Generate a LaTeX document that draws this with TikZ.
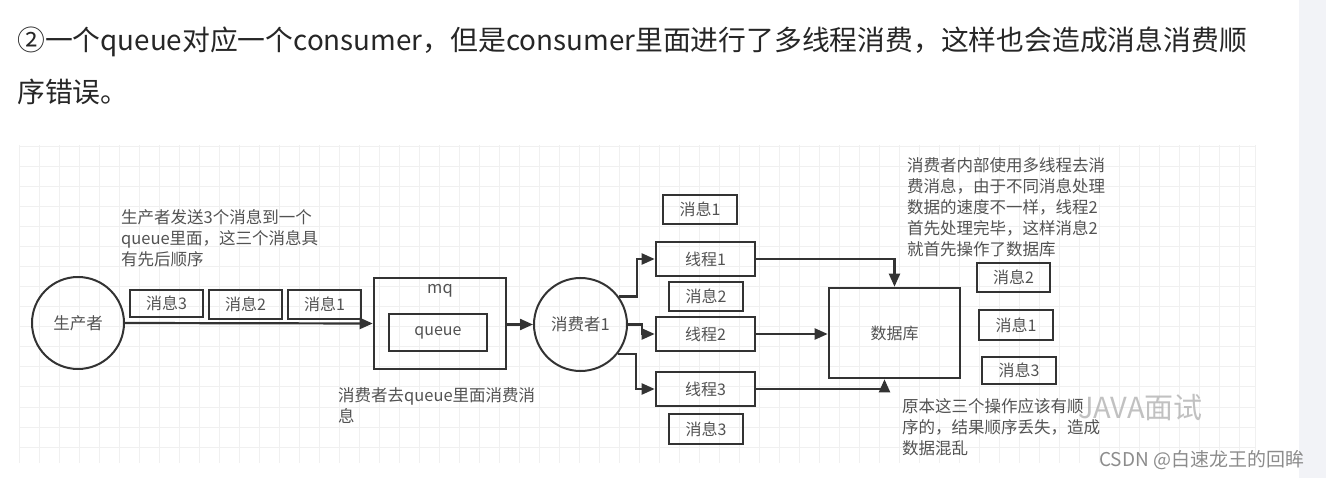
\documentclass[tikz,border=0pt]{standalone}
\usepackage{fontspec}
\setmainfont{Noto Sans CJK SC}
\usetikzlibrary{positioning}
\usetikzlibrary{arrows.meta}
\definecolor{ink}{HTML}{333333}
\definecolor{gridline}{HTML}{F0F0F0}
\definecolor{sidebar}{HTML}{F2F3F7}
\tikzset{>={Triangle[length=13pt,width=11pt]}}
\tikzset{
  msgbox/.style={draw=ink,line width=2.6pt,minimum width=73pt,minimum height=28pt,
    inner sep=0pt,text=ink!85,font=\fontsize{16}{18}\selectfont},
  threadbox/.style={msgbox,minimum width=99pt,minimum height=34pt},
  rolenode/.style={circle,draw=ink,line width=2pt,minimum size=92pt,inner sep=0pt,
    text=ink!85,font=\fontsize{16.5}{18}\selectfont},
  note/.style={anchor=north west,align=left,inner sep=0pt,text=ink!85,
    font=\fontsize{16.5}{21}\selectfont},
  link/.style={->,draw=ink,line width=2.2pt},
}

\begin{document}
\begin{tikzpicture}[x=1pt,y=-1pt]
	\useasboundingbox (0,0) rectangle (1326,478);
	\fill[sidebar] (1299,0) rectangle (1326,478);
	% heading
	\node[anchor=west,inner sep=0pt,font=\fontsize{27.8}{30}\selectfont,text=black!85] (title1) at (17,42)
	  {②一个queue对应一个consumer，但是consumer里面进行了多线程消费，这样也会造成消息消费顺};
	\node[anchor=west,inner sep=0pt,font=\fontsize{27.8}{30}\selectfont,text=black!85] (title2) at (17,92)
	  {序错误。};
	% grid paper
	\foreach \gx in {19,39,...,1239,1255}
	  \draw[gridline,line width=1pt] (\gx,145) -- (\gx,463);
	\foreach \gy in {147,167,...,447}
	  \draw[gridline,line width=1pt] (19,\gy) -- (1255,\gy);

	\node[rolenode] (producer) at (78,323) {生产者};
	\node[msgbox,minimum height=27pt] (pm3) at (166.5,303.5) {消息3};
	\node[msgbox,minimum height=29pt] (pm2) at (245.5,304.5) {消息2};
	\node[msgbox,minimum height=29pt] (pm1) at (324.5,304.5) {消息1};
	\node[note] (sendnote) at (121,209) {生产者发送3个消息到一个\\queue里面，这三个消息具\\有先后顺序};

	\node[msgbox,minimum width=132pt,minimum height=91pt] (mq) at (440,323.5) {};
	\node[text=ink!85,font=\fontsize{16.5}{18}\selectfont] (mqlabel) at (440,291) {mq};
	\node[msgbox,minimum width=98pt,minimum height=37pt] (queue) at (438,332.5) {queue};
	\node[note] (pullnote) at (338,387) {消费者去queue里面消费消\\息};

	\node[rolenode,minimum size=93pt] (consumer) at (580.5,324.5) {消费者1};
	\node[threadbox] (t1) at (705.5,259) {线程1};
	\node[threadbox] (t2) at (705.5,334) {线程2};
	\node[threadbox] (t3) at (705.5,389) {线程3};
	\node[msgbox,minimum width=74pt,minimum height=29pt] (tm1) at (700,209.5) {消息1};
	\node[msgbox,minimum width=74pt,minimum height=29pt] (tm2) at (706,296.5) {消息2};
	\node[msgbox,minimum width=74pt,minimum height=30pt] (tm3) at (706,429) {消息3};

	\node[msgbox,minimum width=131pt,minimum height=90pt] (db) at (894.5,333) {数据库};
	\node[msgbox,minimum height=29pt] (dm2) at (1013.5,277.5) {消息2};
	\node[msgbox,minimum width=74pt,minimum height=30pt] (dm1) at (1016,325) {消息1};
	\node[msgbox,minimum width=74pt,minimum height=27pt] (dm3) at (1019,370.5) {消息3};
	\node[note] (threadnote) at (907,157) {消费者内部使用多线程去消\\费消息，由于不同消息处理\\数据的速度不一样，线程2\\首先处理完毕，这样消息2\\就首先操作了数据库};
	\node[note] (lostnote) at (902,398) {原本这三个操作应该有顺\\序的，结果顺序丢失，造成\\数据混乱};

	% watermarks
	\node[anchor=west,inner sep=0pt,text=black!30,opacity=0.8,font=\fontsize{29}{32}\selectfont] (wxmark) at (1078,408) {JAVA面试};
	\node[anchor=west,inner sep=0pt,text=black!45,font=\fontsize{19}{22}\selectfont] (csdnmark) at (1099,460) {CSDN @白速龙王的回眸};

	\draw[link] (producer.east) -- (mq.west);
	\draw[link] (mq.east |- consumer.west) -- (consumer.west);
	\draw[link] (consumer.36) -- ++(18,0) |- (t1.west);
	\draw[link] (consumer.east) -- ++(14,0) |- (t2.west);
	\draw[link] (consumer.-38) -- ++(18,0) |- (t3.west);
	\draw[link] (t1.east) -| (db.north);
	\draw[link] (t2.east) -- (t2.east -| db.west);
	\draw[link] (t3.east) -| ([xshift=-10pt]db.south);
\end{tikzpicture}
\end{document}
